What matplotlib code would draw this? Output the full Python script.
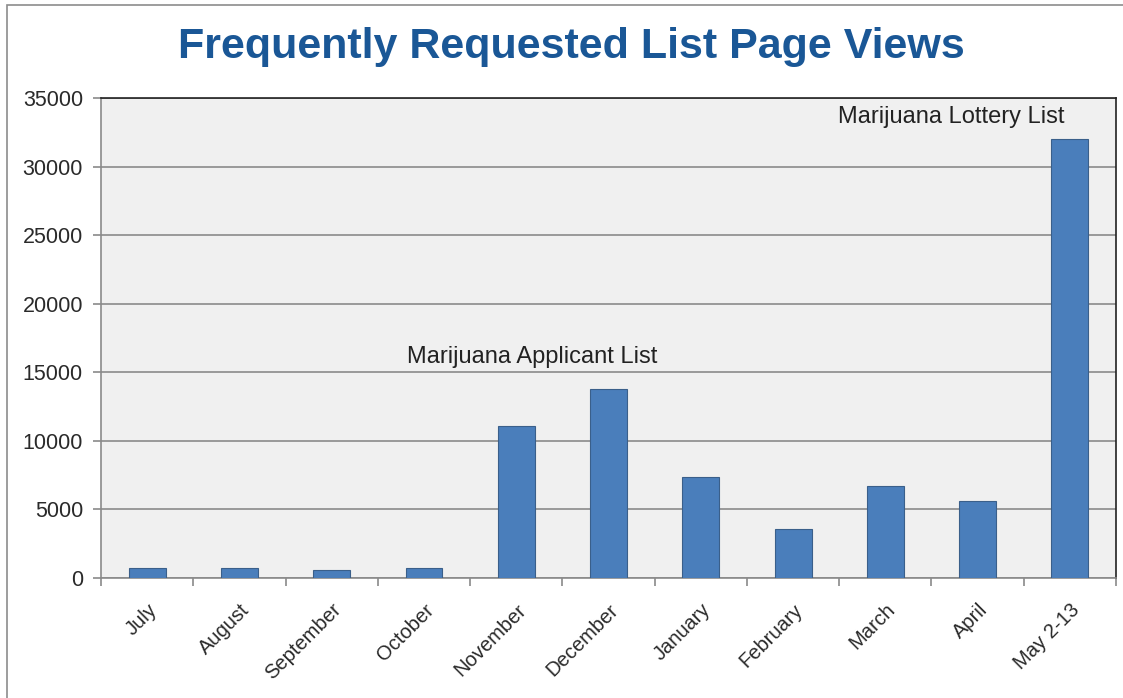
import numpy as np
import matplotlib.pyplot as plt
from matplotlib.patches import Rectangle

# ---- data ----
months = ["July", "August", "September", "October", "November", "December",
          "January", "February", "March", "April", "May 2-13"]
views = [750, 750, 600, 750, 11100, 13750, 7400, 3550, 6700, 5600, 32000]

notes = ["Marijuana Applicant List", "Marijuana Lottery List"]
note_x = [4.17, 8.71]
note_y = [15300, 32800]

# ---- figure ----
fig = plt.figure(figsize=(11.23, 6.98), dpi=100)
fig.patch.set_facecolor("white")
fig.add_artist(Rectangle((7 / 1123, -0.01), 1.01, 1 - 5 / 698 + 0.01,
                         transform=fig.transFigure, fill=False,
                         edgecolor="#8c8c8c", lw=1.2))

ax = fig.add_axes([101 / 1123, 1 - 578 / 698, (1116 - 101) / 1123, (578 - 98) / 698])
ax.set_facecolor("#f0f0f0")

x = np.arange(len(months))
ax.bar(x, views, width=0.4, color="#4a7ebb", edgecolor="#3a5f8a", lw=0.8, zorder=3)

ax.set_xlim(-0.5, len(months) - 0.5)
ax.set_ylim(0, 35000)
ax.set_yticks(np.arange(0, 35001, 5000))
ax.yaxis.grid(True, color="#8a8a8a", lw=1.2, zorder=1)

ax.set_xticks(x)
ax.set_xticklabels(months, rotation=45, ha="right", rotation_mode="anchor",
                   fontsize=14.5, family="Liberation Sans", color="#2a2a2a")
ax.set_xticks(np.arange(-0.5, len(months), 1.0), minor=True)
ax.tick_params(axis="x", which="major", length=0, pad=16)
ax.tick_params(axis="x", which="minor", length=6, color="#8a8a8a", width=1.2)
ax.tick_params(axis="y", length=6, color="#8a8a8a", width=1.2, pad=7)
for lab in ax.get_yticklabels():
    lab.set_fontsize(15.5)
    lab.set_family("Liberation Sans")
    lab.set_color("#2a2a2a")

for side in ["left", "bottom"]:
    ax.spines[side].set_color("#8a8a8a")
    ax.spines[side].set_linewidth(1.2)
for side in ["top", "right"]:
    ax.spines[side].set_color("#222222")
    ax.spines[side].set_linewidth(1.2)

for t, nx, ny in zip(notes, note_x, note_y):
    ax.text(nx, ny, t, ha="center", va="bottom", fontsize=17,
            family="Liberation Sans", color="#222222")

fig.text(571 / 1123, 1 - 47 / 698, "Frequently Requested List Page Views",
         ha="center", va="center", fontsize=31, fontweight="bold",
         family=["Liberation Sans", "DejaVu Sans"], color="#1a5796")

fig.savefig("out.png", dpi=100)
